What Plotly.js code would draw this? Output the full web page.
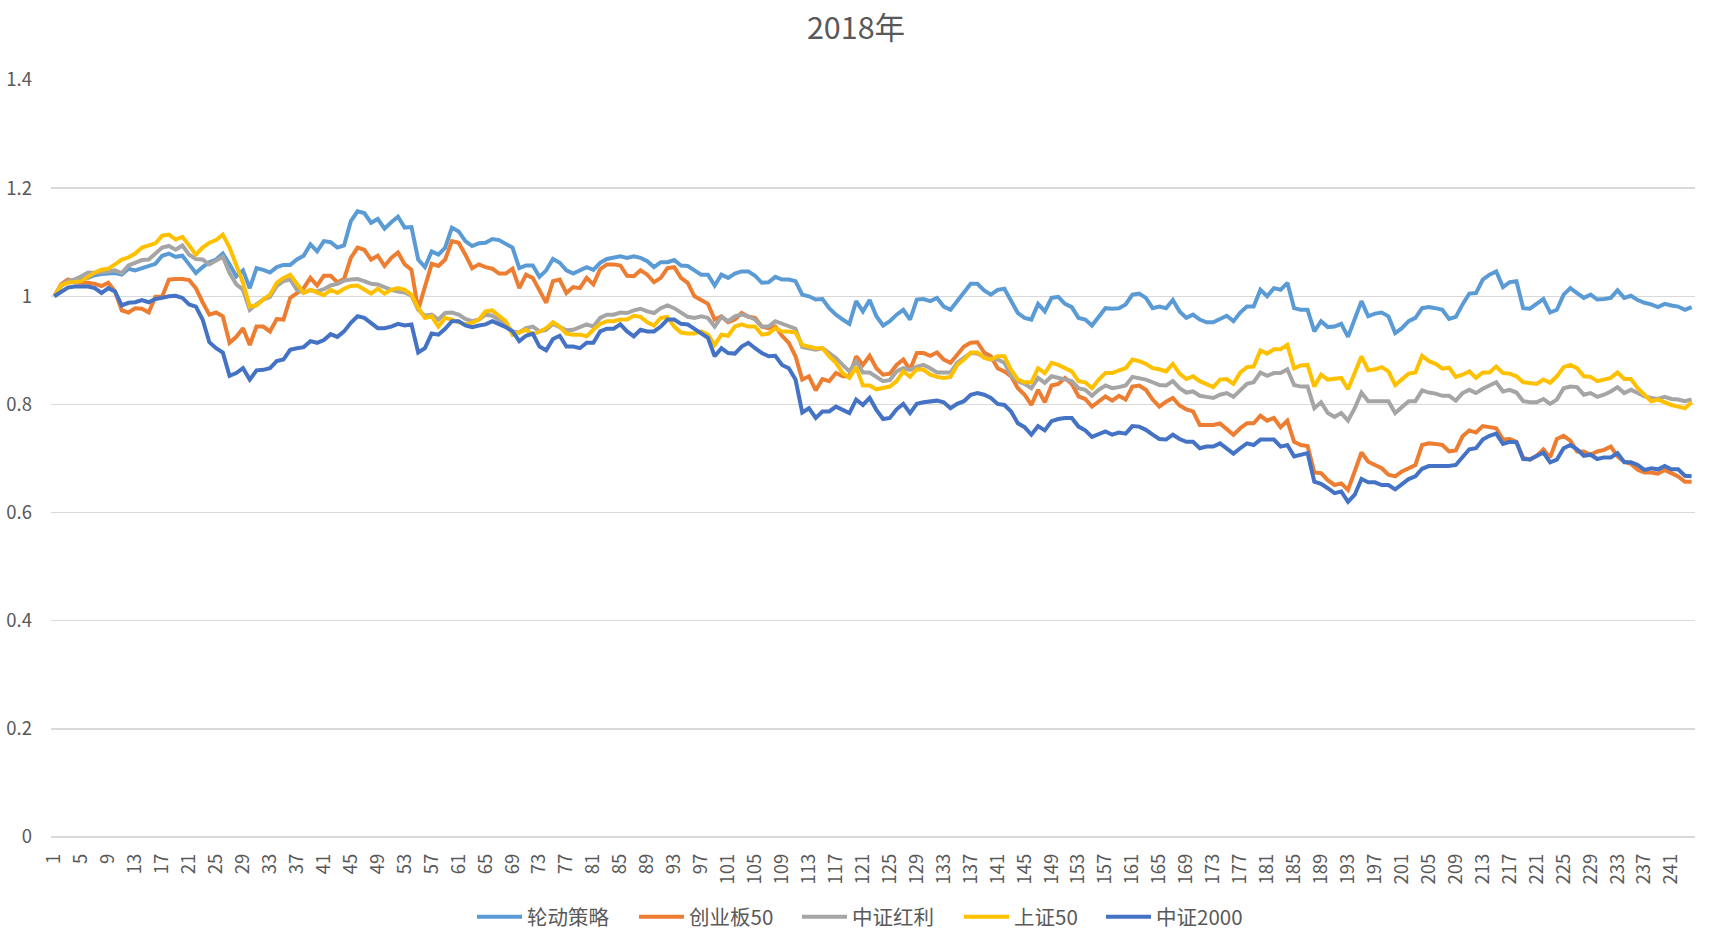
<!DOCTYPE html>
<html>
<head>
<meta charset="utf-8">
<script src="https://cdn.plot.ly/plotly-3.0.1.min.js"></script>
<style>
  html, body { margin: 0; padding: 0; background: #fff; }
  #chart { width: 1712px; height: 943px; }
</style>
</head>
<body>
<div id="chart"></div>
<script>
const chartTitle = "2018年";
const seriesNames = ["轮动策略", "创业板50", "中证红利", "上证50", "中证2000"];
const seriesColors = ["#5B9BD5", "#ED7D31", "#A5A5A5", "#FFC000", "#4472C4"];
const legendWidths = [102, 103, 102, 82, 84];

const rotation = [
1.000,1.019,1.028,1.029,1.031,1.034,1.039,1.041,1.042,1.043,1.040,1.051,1.048,1.052,1.056,1.060,1.075,1.079,1.073,1.075,1.059,1.043,1.054,1.063,1.068,1.079,1.059,1.037,1.048,1.015,1.052,1.049,1.044,1.054,1.058,1.058,1.068,1.075,1.096,1.083,1.102,1.100,
1.090,1.094,1.139,1.157,1.154,1.136,1.143,1.125,1.137,1.147,1.127,1.128,1.068,1.054,1.083,1.077,1.090,1.127,1.120,1.102,1.093,1.098,1.099,1.106,1.104,1.098,1.090,1.052,1.057,1.057,1.036,1.048,1.069,1.062,1.048,1.042,1.048,1.054,1.049,1.062,1.069,
1.071,1.074,1.071,1.074,1.071,1.065,1.054,1.063,1.063,1.067,1.057,1.056,1.048,1.040,1.040,1.020,1.040,1.034,1.042,1.046,1.046,1.038,1.025,1.026,1.036,1.031,1.031,1.028,1.003,1.000,0.994,0.995,0.978,0.966,0.957,0.949,0.991,0.972,0.993,0.963,0.946,0.954,
0.966,0.975,0.957,0.994,0.995,0.991,0.997,0.981,0.975,0.991,1.006,1.023,1.023,1.011,1.003,1.012,1.014,0.993,0.969,0.960,0.957,0.986,0.972,0.997,0.999,0.986,0.980,0.960,0.957,0.946,0.962,0.978,0.977,0.978,0.985,1.003,1.005,0.997,0.978,0.981,0.978,
0.993,0.972,0.960,0.966,0.957,0.952,0.952,0.958,0.964,0.954,0.970,0.981,0.981,1.012,1.000,1.015,1.012,1.025,0.978,0.975,0.975,0.935,0.954,0.943,0.944,0.949,0.925,0.958,0.991,0.963,0.968,0.970,0.963,0.932,0.941,0.954,0.960,0.978,0.980,0.978,0.975,0.958,
0.962,0.985,1.005,1.006,1.031,1.040,1.046,1.017,1.026,1.028,0.978,0.977,0.985,0.995,0.970,0.975,1.003,1.015,1.006,0.997,1.003,0.994,0.995,0.997,1.011,0.997,1.001,0.993,0.988,0.985,0.980,0.986,0.983,0.981,0.975,0.980
];

const chinext50 = [
1.000,1.022,1.031,1.026,1.025,1.025,1.023,1.019,1.025,1.009,0.974,0.970,0.978,0.977,0.970,0.999,0.999,1.031,1.032,1.032,1.030,1.015,0.989,0.966,0.970,0.963,0.914,0.925,0.941,0.910,0.944,0.944,0.935,0.958,0.957,0.997,1.006,1.015,1.034,1.020,1.038,1.038,
1.026,1.032,1.071,1.090,1.086,1.068,1.075,1.056,1.071,1.081,1.059,1.049,0.975,1.020,1.060,1.056,1.068,1.102,1.099,1.077,1.052,1.059,1.054,1.051,1.042,1.042,1.051,1.015,1.040,1.034,1.009,0.988,1.028,1.031,1.006,1.017,1.015,1.034,1.022,1.050,1.059,
1.059,1.057,1.038,1.037,1.048,1.040,1.026,1.034,1.052,1.054,1.034,1.025,1.000,0.993,0.986,0.957,0.963,0.952,0.957,0.969,0.962,0.960,0.944,0.941,0.944,0.927,0.914,0.889,0.846,0.852,0.826,0.847,0.843,0.858,0.852,0.852,0.889,0.873,0.890,0.867,0.855,0.857,
0.873,0.883,0.864,0.895,0.895,0.890,0.896,0.883,0.877,0.892,0.907,0.914,0.915,0.896,0.889,0.867,0.861,0.852,0.830,0.818,0.799,0.827,0.804,0.835,0.838,0.849,0.838,0.815,0.810,0.796,0.806,0.815,0.807,0.816,0.809,0.833,0.835,0.827,0.809,0.796,0.805,
0.812,0.798,0.791,0.787,0.762,0.762,0.762,0.765,0.754,0.744,0.756,0.765,0.765,0.779,0.770,0.775,0.758,0.770,0.731,0.725,0.723,0.674,0.673,0.660,0.651,0.654,0.642,0.679,0.711,0.694,0.688,0.682,0.670,0.667,0.676,0.682,0.688,0.725,0.728,0.727,0.725,0.713,
0.715,0.741,0.752,0.748,0.760,0.758,0.756,0.735,0.736,0.731,0.701,0.698,0.705,0.717,0.702,0.736,0.742,0.733,0.713,0.713,0.707,0.713,0.716,0.722,0.704,0.694,0.690,0.679,0.674,0.674,0.672,0.679,0.673,0.667,0.657,0.657
];

const dividend = [
1.000,1.020,1.028,1.031,1.037,1.044,1.043,1.044,1.046,1.048,1.043,1.057,1.062,1.067,1.068,1.079,1.090,1.093,1.086,1.094,1.077,1.069,1.068,1.059,1.065,1.073,1.043,1.022,1.012,0.975,0.985,0.994,0.999,1.019,1.028,1.031,1.012,1.007,1.011,1.009,1.013,1.020,
1.023,1.029,1.031,1.032,1.028,1.023,1.022,1.017,1.012,1.009,1.007,1.001,0.975,0.964,0.966,0.957,0.969,0.970,0.966,0.958,0.954,0.957,0.966,0.964,0.957,0.948,0.935,0.933,0.941,0.944,0.935,0.938,0.949,0.944,0.937,0.938,0.943,0.948,0.944,0.960,0.966,
0.966,0.970,0.969,0.974,0.977,0.972,0.969,0.978,0.983,0.978,0.969,0.962,0.960,0.963,0.960,0.944,0.962,0.954,0.963,0.966,0.963,0.957,0.944,0.944,0.954,0.949,0.944,0.940,0.906,0.904,0.901,0.904,0.895,0.886,0.873,0.861,0.880,0.859,0.859,0.852,0.843,0.845,
0.861,0.867,0.864,0.870,0.873,0.867,0.859,0.859,0.859,0.877,0.886,0.895,0.894,0.889,0.883,0.883,0.877,0.853,0.843,0.838,0.830,0.849,0.840,0.852,0.849,0.847,0.843,0.830,0.827,0.816,0.827,0.835,0.830,0.832,0.835,0.851,0.849,0.846,0.841,0.836,0.835,
0.843,0.830,0.822,0.824,0.816,0.814,0.812,0.818,0.821,0.814,0.826,0.838,0.841,0.859,0.853,0.858,0.858,0.865,0.836,0.833,0.833,0.793,0.804,0.784,0.777,0.784,0.770,0.793,0.822,0.806,0.806,0.806,0.806,0.784,0.796,0.806,0.806,0.826,0.822,0.820,0.816,0.816,
0.807,0.821,0.827,0.821,0.829,0.835,0.841,0.824,0.827,0.822,0.806,0.804,0.804,0.810,0.801,0.809,0.830,0.833,0.832,0.818,0.821,0.814,0.818,0.824,0.832,0.821,0.827,0.821,0.815,0.812,0.810,0.814,0.810,0.809,0.806,0.809
];

const sse50 = [
1.000,1.020,1.025,1.026,1.028,1.036,1.044,1.049,1.051,1.059,1.068,1.072,1.079,1.090,1.094,1.098,1.112,1.114,1.105,1.110,1.094,1.077,1.090,1.099,1.104,1.114,1.090,1.059,1.025,0.981,0.983,0.994,1.003,1.025,1.034,1.040,1.023,1.006,1.012,1.006,1.002,1.012,
1.006,1.014,1.019,1.020,1.012,1.005,1.014,1.005,1.012,1.015,1.012,1.003,0.978,0.960,0.963,0.944,0.960,0.957,0.952,0.948,0.951,0.957,0.972,0.974,0.964,0.954,0.929,0.933,0.938,0.929,0.935,0.941,0.952,0.944,0.931,0.929,0.929,0.926,0.938,0.949,0.954,
0.954,0.957,0.957,0.964,0.962,0.952,0.946,0.960,0.962,0.944,0.933,0.931,0.931,0.935,0.929,0.910,0.929,0.927,0.944,0.948,0.944,0.944,0.929,0.931,0.941,0.935,0.935,0.933,0.910,0.907,0.904,0.904,0.889,0.877,0.858,0.849,0.869,0.835,0.835,0.828,0.830,0.833,
0.843,0.861,0.851,0.865,0.864,0.855,0.851,0.849,0.851,0.873,0.883,0.896,0.896,0.886,0.883,0.889,0.889,0.864,0.846,0.841,0.841,0.867,0.858,0.877,0.873,0.867,0.861,0.843,0.841,0.830,0.846,0.858,0.858,0.863,0.867,0.883,0.880,0.875,0.867,0.865,0.861,
0.875,0.857,0.847,0.852,0.843,0.838,0.832,0.846,0.847,0.838,0.859,0.869,0.870,0.900,0.894,0.902,0.902,0.910,0.867,0.872,0.873,0.833,0.855,0.846,0.847,0.849,0.828,0.858,0.889,0.863,0.865,0.869,0.861,0.836,0.846,0.857,0.859,0.890,0.880,0.875,0.866,0.868,
0.851,0.855,0.861,0.849,0.859,0.859,0.870,0.858,0.857,0.852,0.841,0.840,0.838,0.846,0.840,0.852,0.869,0.873,0.867,0.852,0.851,0.843,0.846,0.849,0.859,0.847,0.847,0.830,0.818,0.806,0.809,0.804,0.799,0.796,0.793,0.804
];

const csi2000 = [
1.000,1.008,1.016,1.018,1.018,1.018,1.015,1.006,1.015,1.009,0.983,0.988,0.989,0.993,0.989,0.995,0.997,1.000,1.001,0.997,0.985,0.981,0.957,0.915,0.904,0.896,0.853,0.858,0.867,0.846,0.863,0.864,0.867,0.880,0.883,0.901,0.904,0.906,0.917,0.914,0.919,0.930,
0.925,0.935,0.951,0.963,0.960,0.951,0.941,0.941,0.944,0.949,0.946,0.948,0.896,0.904,0.931,0.929,0.940,0.954,0.954,0.946,0.943,0.946,0.948,0.954,0.949,0.943,0.935,0.917,0.927,0.931,0.907,0.900,0.921,0.927,0.907,0.907,0.904,0.914,0.914,0.935,0.940,
0.940,0.948,0.935,0.926,0.938,0.935,0.935,0.944,0.957,0.957,0.949,0.948,0.940,0.932,0.923,0.889,0.904,0.895,0.894,0.907,0.914,0.904,0.895,0.889,0.890,0.873,0.867,0.846,0.785,0.793,0.775,0.787,0.787,0.796,0.790,0.784,0.809,0.799,0.812,0.790,0.773,0.775,
0.791,0.801,0.784,0.801,0.804,0.806,0.807,0.804,0.793,0.801,0.806,0.818,0.821,0.818,0.812,0.801,0.799,0.787,0.765,0.758,0.744,0.760,0.752,0.769,0.773,0.775,0.775,0.759,0.752,0.740,0.746,0.750,0.744,0.748,0.746,0.760,0.759,0.753,0.744,0.736,0.735,
0.744,0.736,0.731,0.731,0.719,0.722,0.722,0.728,0.719,0.709,0.719,0.728,0.725,0.735,0.735,0.735,0.722,0.725,0.704,0.707,0.710,0.657,0.653,0.645,0.636,0.639,0.620,0.633,0.662,0.656,0.656,0.651,0.651,0.643,0.653,0.662,0.667,0.681,0.686,0.686,0.686,0.686,
0.688,0.702,0.717,0.719,0.735,0.742,0.746,0.727,0.731,0.730,0.699,0.698,0.704,0.711,0.693,0.698,0.719,0.725,0.717,0.705,0.707,0.699,0.702,0.702,0.710,0.693,0.693,0.688,0.679,0.682,0.680,0.686,0.680,0.680,0.668,0.667
];

const seriesValues = [rotation, chinext50, dividend, sse50, csi2000];

// category labels: trading day index 1..N, every 4th shown
const dayIndex = rotation.map((_, i) => i + 1);
const tickDays = dayIndex.filter(d => (d - 1) % 4 === 0);
const yTicks = [0, 0.2, 0.4, 0.6, 0.8, 1, 1.2, 1.4];

const FONT = "'Noto Sans CJK SC', 'Noto Sans', sans-serif";
const TXT = "#595959";

const traces = seriesNames.map((name, k) => ({
  type: "scatter",
  mode: "lines",
  name: name,
  x: dayIndex,
  y: seriesValues[k],
  line: { color: seriesColors[k], width: 4 },
  legendwidth: legendWidths[k],
  hoverinfo: "x+y+name"
}));

const layout = {
  width: 1712,
  height: 943,
  paper_bgcolor: "#ffffff",
  plot_bgcolor: "#ffffff",
  font: { family: FONT, color: TXT, size: 18 },
  margin: { l: 51, r: 17, t: 80, b: 106, pad: 0 },
  title: {
    text: chartTitle,
    font: { family: FONT, size: 30.5, color: TXT },
    x: 0.5, xref: "container", xanchor: "center",
    y: 1 - 28 / 943, yref: "container", yanchor: "middle"
  },
  xaxis: {
    type: "linear",
    range: [0.5, dayIndex.length + 0.5],
    tickmode: "array",
    tickvals: tickDays,
    ticktext: tickDays.map(String),
    tickangle: -90,
    tickfont: { family: FONT, size: 18.5, color: TXT },
    showgrid: false,
    zeroline: false,
    showline: false,
    ticks: "",
    ticklabelstandoff: 12,
    fixedrange: true
  },
  yaxis: {
    range: [0, 1.4],
    tickmode: "array",
    tickvals: yTicks,
    ticktext: yTicks.map(String),
    tickfont: { family: FONT, size: 18.5, color: TXT },
    showgrid: true,
    gridcolor: "#D9D9D9",
    gridwidth: 1.5,
    zeroline: true,
    zerolinecolor: "#D9D9D9",
    zerolinewidth: 1.5,
    showline: false,
    ticks: "",
    ticklabelstandoff: 18,
    fixedrange: true
  },
  showlegend: true,
  legend: {
    orientation: "h",
    xref: "container",
    x: 472 / 1712,
    xanchor: "left",
    yref: "container",
    y: 1 - 917 / 943,
    yanchor: "middle",
    font: { family: FONT, size: 20.5, color: TXT },
    itemwidth: 45,
    traceorder: "normal",
    bgcolor: "rgba(0,0,0,0)"
  }
};

Plotly.newPlot("chart", traces, layout, { displayModeBar: false, staticPlot: true });
</script>
</body>
</html>
